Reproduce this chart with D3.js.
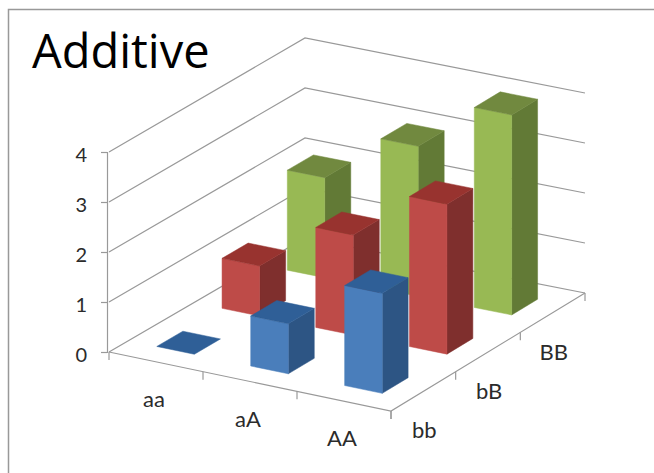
<!DOCTYPE html>
<html>
<head>
<meta charset="utf-8">
<script src="https://cdn.jsdelivr.net/npm/d3@7"></script>
<style>
  html, body { margin: 0; padding: 0; background: #fff; }
  svg { display: block; }
  text { font-family: Lato, "Open Sans", sans-serif; fill: #2b2b2b; }
</style>
</head>
<body>
<svg id="chart" width="654" height="473"></svg>
<script>
// Genotype categories along the front edge and along the depth of the floor
const frontCategories = ["aa", "aA", "AA"];
const depthCategories = ["bb", "bB", "BB"];
const valueTicks = [0, 1, 2, 3, 4];

// Phenotype value per series (one series per depth row)
const bbValues = [0, 1, 2];
const bBValues = [1, 2, 3];
const BBValues = [2, 3, 4];

const chartTitle = "Additive";

// Face shades per series: front, top, side
const bbShades = ["#4a7ebb", "#2f5f97", "#2d5584"];
const bBShades = ["#be4b48", "#98332f", "#7f2f2d"];
const BBShades = ["#98b954", "#71893f", "#627a36"];

const series = [
  { values: bbValues, shades: bbShades, row: 0 },
  { values: bBValues, shades: bBShades, row: 1 },
  { values: BBValues, shades: BBShades, row: 2 }
];

const svg = d3.select("#chart");

// Frame around the slide-style panel, open on the right and bottom
svg.append("path")
  .attr("d", "M8.5,473V9.5H654")
  .attr("fill", "none")
  .attr("stroke", "#999")
  .attr("stroke-width", 1.5);

// Oblique projection: front and back floor edges, blended across the depth
const frontEdge = d3.scaleLinear().domain([0, 3]).range([[109, 352], [391, 411]]);
const backEdge = d3.scaleLinear().domain([0, 3]).range([[305, 238], [585, 293]]);
const depth = d3.scaleLinear().domain([0, 3]).range([0, 1]);
const y = d3.scaleLinear().domain([0, 4]).range([352, 152]);
const lift = v => y(0) - y(v);

function project(u, v, h) {
  const p = d3.interpolate(frontEdge(u), backEdge(u))(depth(v));
  return [p[0], p[1] - lift(h)];
}

const line = d3.line();
const wallStroke = "#999";

// Gridlines across the left and back walls
const grid = svg.append("g").attr("fill", "none").attr("stroke", wallStroke).attr("stroke-width", 1.2);
valueTicks.forEach(t => {
  grid.append("path").attr("d", line([project(0, 0, t), project(0, 3, t), project(3, 3, t)]));
});

// Floor edges and their tick marks
const floor = svg.append("g").attr("fill", "none").attr("stroke", wallStroke).attr("stroke-width", 1.2);
floor.append("path").attr("d", line([project(0, 0, 0), project(3, 0, 0), project(3, 3, 0)]));
d3.range(0, 4).forEach(i => {
  const a = project(i, 0, 0);
  floor.append("path").attr("d", line([a, [a[0], a[1] + 8]]));
  const b = project(3, i, 0);
  floor.append("path").attr("d", line([b, [b[0], b[1] + 8]]));
});

// Value axis on the front-left corner
const axis = svg.append("g")
  .attr("transform", "translate(107,0)")
  .call(d3.axisLeft(y).tickValues(valueTicks).tickSize(6).tickPadding(14).tickFormat(d3.format("d")));
axis.selectAll("path, line").attr("stroke", wallStroke).attr("stroke-width", 1.2);
axis.selectAll("text").attr("font-size", 20).attr("dy", "0.45em")
  .attr("fill", "#2b2b2b").style("font-family", "Lato, sans-serif");

// Bars, painted from the back row forward and left to right
const barStart = 0.3, barSize = 0.4;
const bars = svg.append("g");
series.slice().reverse().forEach(s => {
  s.values.forEach((val, i) => {
    const u0 = i + barStart, u1 = u0 + barSize;
    const v0 = s.row + barStart, v1 = v0 + barSize;
    const face = (pts, fill) => bars.append("path")
      .attr("d", line(pts) + "Z").attr("fill", fill).attr("stroke", fill).attr("stroke-width", 0.5);
    if (val > 0) {
      face([project(u1, v0, 0), project(u1, v1, 0), project(u1, v1, val), project(u1, v0, val)], s.shades[2]);
      face([project(u0, v0, 0), project(u1, v0, 0), project(u1, v0, val), project(u0, v0, val)], s.shades[0]);
    }
    face([project(u0, v0, val), project(u1, v0, val), project(u1, v1, val), project(u0, v1, val)], s.shades[1]);
  });
});

// Category labels under the floor edges
svg.append("g").selectAll("text").data(frontCategories).join("text")
  .attr("x", (d, i) => project(i + 0.5, 0, 0)[0] - 2)
  .attr("y", (d, i) => project(i + 0.5, 0, 0)[1] + 45)
  .attr("text-anchor", "middle").attr("font-size", 22).text(d => d);

svg.append("g").selectAll("text").data(depthCategories).join("text")
  .attr("x", (d, i) => project(3, i + 0.5, 0)[0] + 1)
  .attr("y", (d, i) => project(3, i + 0.5, 0)[1] + 47)
  .attr("text-anchor", "middle").attr("font-size", 22).text(d => d);

svg.append("text")
  .attr("x", 32).attr("y", 68)
  .attr("font-size", 47)
  .style("font-family", "'Open Sans', sans-serif")
  .style("fill", "#000")
  .text(chartTitle);
</script>
</body>
</html>
